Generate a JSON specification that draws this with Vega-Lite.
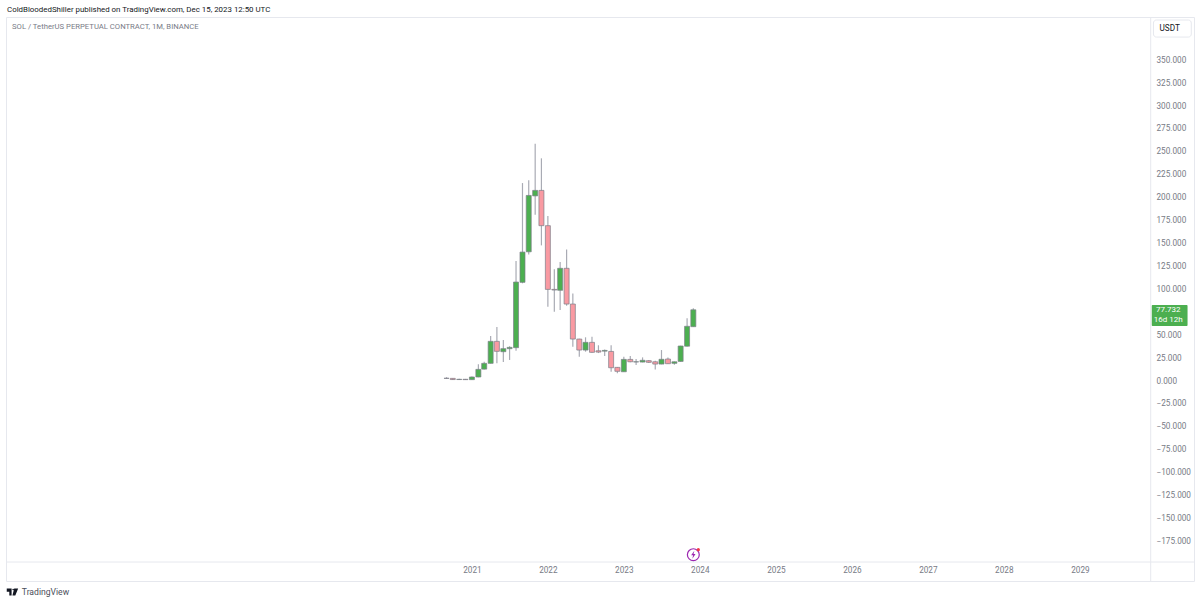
{
  "$schema": "https://vega.github.io/schema/vega-lite/v6.json",
  "width": 1188,
  "height": 564,
  "padding": {"left": 6, "top": 17, "right": 6, "bottom": 23},
  "autosize": "none",
  "background": "white",
  "view": {"stroke": "#E6E8EE", "strokeWidth": 1},
  "title": {
    "text": "ColdBloodedShiller published on TradingView.com, Dec 15, 2023 12:50 UTC",
    "anchor": "start",
    "frame": "group",
    "dx": 1,
    "offset": 3,
    "font": "Roboto",
    "fontSize": 7.9,
    "fontWeight": "normal",
    "color": "#131722"
  },
  "config": {"font": "Roboto", "axis": {"labelOverlap": false, "labelBound": false}},
  "datasets": {
    "candles": [
      {"date": "2020-09-01", "open": 3.0, "close": 2.9, "high": 4.2, "low": 2.4},
      {"date": "2020-10-01", "open": 2.9, "close": 1.6, "high": 3.0, "low": 1.2},
      {"date": "2020-11-01", "open": 1.6, "close": 1.9, "high": 2.4, "low": 1.1},
      {"date": "2020-12-01", "open": 1.9, "close": 1.5, "high": 2.3, "low": 1.1},
      {"date": "2021-01-01", "open": 1.5, "close": 4.4, "high": 5.0, "low": 1.3},
      {"date": "2021-02-01", "open": 4.4, "close": 12.7, "high": 18.2, "low": 4.0},
      {"date": "2021-03-01", "open": 13, "close": 19.3, "high": 21, "low": 12.6},
      {"date": "2021-04-01", "open": 19.3, "close": 43.3, "high": 49, "low": 19},
      {"date": "2021-05-01", "open": 43.3, "close": 32.4, "high": 59, "low": 19.3},
      {"date": "2021-06-01", "open": 32, "close": 35.3, "high": 44.7, "low": 20.7},
      {"date": "2021-07-01", "open": 35.3, "close": 36.7, "high": 38, "low": 23},
      {"date": "2021-08-01", "open": 36.4, "close": 108, "high": 131, "low": 33},
      {"date": "2021-09-01", "open": 107.7, "close": 140.7, "high": 216, "low": 106.6},
      {"date": "2021-10-01", "open": 141, "close": 202.5, "high": 219, "low": 138},
      {"date": "2021-11-01", "open": 202, "close": 208, "high": 259, "low": 181.5},
      {"date": "2021-12-01", "open": 208, "close": 169.5, "high": 243, "low": 148},
      {"date": "2022-01-01", "open": 169.5, "close": 100, "high": 180, "low": 81},
      {"date": "2022-02-01", "open": 100, "close": 99.3, "high": 122, "low": 75.6},
      {"date": "2022-03-01", "open": 99, "close": 123, "high": 130, "low": 77.5},
      {"date": "2022-04-01", "open": 123, "close": 84, "high": 143.6, "low": 82},
      {"date": "2022-05-01", "open": 84, "close": 45.8, "high": 95.6, "low": 37.5},
      {"date": "2022-06-01", "open": 45.8, "close": 33.8, "high": 46, "low": 26.5},
      {"date": "2022-07-01", "open": 33.8, "close": 42.2, "high": 47.7, "low": 32},
      {"date": "2022-08-01", "open": 42.2, "close": 31.3, "high": 48.4, "low": 30.9},
      {"date": "2022-09-01", "open": 33, "close": 31.6, "high": 39, "low": 30.5},
      {"date": "2022-10-01", "open": 32.6, "close": 33.4, "high": 34.5, "low": 27.3},
      {"date": "2022-11-01", "open": 32.3, "close": 14.5, "high": 39, "low": 10},
      {"date": "2022-12-01", "open": 14.9, "close": 10.6, "high": 15.2, "low": 8.4},
      {"date": "2023-01-01", "open": 10.1, "close": 23.6, "high": 26.5, "low": 10},
      {"date": "2023-02-01", "open": 23.6, "close": 21, "high": 27.3, "low": 20.4},
      {"date": "2023-03-01", "open": 20.8, "close": 21, "high": 24, "low": 17.5},
      {"date": "2023-04-01", "open": 20.7, "close": 22.6, "high": 25.8, "low": 20.4},
      {"date": "2023-05-01", "open": 22.2, "close": 20.4, "high": 22.9, "low": 19.6},
      {"date": "2023-06-01", "open": 21, "close": 18.5, "high": 22, "low": 12.7},
      {"date": "2023-07-01", "open": 18.5, "close": 23.7, "high": 33.8, "low": 18.3},
      {"date": "2023-08-01", "open": 24, "close": 18.9, "high": 25.8, "low": 18.5},
      {"date": "2023-09-01", "open": 19.3, "close": 21, "high": 21.4, "low": 17.8},
      {"date": "2023-10-01", "open": 21.4, "close": 38.2, "high": 38.6, "low": 21},
      {"date": "2023-11-01", "open": 38, "close": 59.7, "high": 68.4, "low": 37.6},
      {"date": "2023-12-01", "open": 59.3, "close": 77.732, "high": 79.3, "low": 59.3}
    ]
  },
  "encoding": {
    "x": {
      "type": "temporal",
      "scale": {"type": "utc", "domain": ["2014-11-15", "2030-07-03"], "padding": 0},
      "title": null,
      "axis": {
        "values": [
          {"year": 2021, "month": 1, "date": 1, "utc": true},
          {"year": 2022, "month": 1, "date": 1, "utc": true},
          {"year": 2023, "month": 1, "date": 1, "utc": true},
          {"year": 2024, "month": 1, "date": 1, "utc": true},
          {"year": 2025, "month": 1, "date": 1, "utc": true},
          {"year": 2026, "month": 1, "date": 1, "utc": true},
          {"year": 2027, "month": 1, "date": 1, "utc": true},
          {"year": 2028, "month": 1, "date": 1, "utc": true},
          {"year": 2029, "month": 1, "date": 1, "utc": true}
        ],
        "format": "%Y",
        "formatType": "utc",
        "grid": false,
        "ticks": false,
        "domain": false,
        "labelPadding": -15,
        "labelBaseline": "top",
        "labelFont": "Roboto",
        "labelFontSize": 8.2,
        "labelColor": "#787B86",
        "labelOverlap": false,
        "labelFlush": false
      }
    },
    "y": {
      "type": "quantitative",
      "scale": {"domain": [-218.2, 397.2], "nice": false, "zero": false, "padding": 0},
      "title": null,
      "axis": {
        "orient": "right",
        "values": [-175, -150, -125, -100, -75, -50, -25, 0, 25, 50, 100, 125, 150, 175, 200, 225, 250, 275, 300, 325, 350],
        "format": ".3f",
        "grid": false,
        "ticks": false,
        "domain": false,
        "labelPadding": -38,
        "labelAlign": "left",
        "labelFont": "Roboto",
        "labelFontSize": 8.2,
        "labelColor": "#787B86",
        "labelOverlap": false,
        "labelFlush": false
      }
    }
  },
  "layer": [
    {
      "data": {"values": [{"edge": "2029-12-07"}]},
      "mark": {"type": "rule", "stroke": "#E6E8EE", "strokeWidth": 1},
      "encoding": {"x": {"field": "edge", "type": "temporal"}, "y": null}
    },
    {
      "data": {"values": [{"edge": -197.5}]},
      "mark": {"type": "rule", "stroke": "#E6E8EE", "strokeWidth": 1},
      "encoding": {"y": {"field": "edge", "type": "quantitative"}, "x": null}
    },
    {
      "data": {"name": "candles"},
      "mark": {"type": "rule", "stroke": "#A9ABB4", "strokeWidth": 1.2},
      "encoding": {
        "x": {"field": "date", "type": "temporal"},
        "y": {"field": "low", "type": "quantitative"},
        "y2": {"field": "high"}
      }
    },
    {
      "data": {"name": "candles"},
      "mark": {"type": "bar", "size": 5, "stroke": "#7B7E88", "strokeWidth": 0.7},
      "encoding": {
        "x": {"field": "date", "type": "temporal"},
        "y": {"field": "open", "type": "quantitative"},
        "y2": {"field": "close"},
        "color": {
          "condition": {"test": "datum.close >= datum.open", "value": "#4CAF50"},
          "value": "#F99AA2"
        }
      }
    },
    {
      "data": {"values": [{"from": "2029-12-12", "to": "2030-06-02", "top": 82.9, "bottom": 60}]},
      "mark": {"type": "rect", "fill": "#4CAF50", "cornerRadius": 1},
      "encoding": {
        "x": {"field": "from", "type": "temporal"},
        "x2": {"field": "to"},
        "y": {"field": "top", "type": "quantitative"},
        "y2": {"field": "bottom"}
      }
    },
    {
      "data": {"values": [{"from": "2029-12-20", "to": "2030-06-20", "top": 393.9, "bottom": 375.3}]},
      "mark": {"type": "rect", "fill": "white", "stroke": "#E6E8EE", "cornerRadius": 3},
      "encoding": {
        "x": {"field": "from", "type": "temporal"},
        "x2": {"field": "to"},
        "y": {"field": "top", "type": "quantitative"},
        "y2": {"field": "bottom"}
      }
    },
    {
      "data": {"values": [
        {"label": "77.732", "date": "2030-03-01", "value": 77.2},
        {"label": "16d 12h", "date": "2030-03-01", "value": 66.2}
      ]},
      "mark": {"type": "text", "align": "center", "baseline": "middle", "font": "Roboto", "fontSize": 8, "color": "white"},
      "encoding": {
        "x": {"field": "date", "type": "temporal"},
        "y": {"field": "value", "type": "quantitative"},
        "text": {"field": "label"}
      }
    },
    {
      "data": {"values": [{"label": "USDT", "date": "2030-03-08", "value": 384.6}]},
      "mark": {"type": "text", "align": "center", "baseline": "middle", "font": "Roboto", "fontSize": 8.2, "color": "#131722"},
      "encoding": {
        "x": {"field": "date", "type": "temporal"},
        "y": {"field": "value", "type": "quantitative"},
        "text": {"field": "label"}
      }
    },
    {
      "data": {"values": [{"label": "SOL / TetherUS PERPETUAL CONTRACT, 1M, BINANCE", "date": "2014-12-14", "value": 386.3}]},
      "mark": {"type": "text", "align": "left", "baseline": "middle", "font": "Roboto", "fontSize": 7.7, "color": "#787B86"},
      "encoding": {
        "x": {"field": "date", "type": "temporal"},
        "y": {"field": "value", "type": "quantitative"},
        "text": {"field": "label"}
      }
    },
    {
      "data": {"values": [{"label": "TradingView", "date": "2015-01-30", "value": -230.2}]},
      "mark": {"type": "text", "align": "left", "baseline": "middle", "font": "Roboto", "fontSize": 8.6, "color": "#4A4E59"},
      "encoding": {
        "x": {"field": "date", "type": "temporal"},
        "y": {"field": "value", "type": "quantitative"},
        "text": {"field": "label"}
      }
    },
    {
      "data": {"values": [{"date": "2014-12-16", "value": -230.2}]},
      "mark": {
        "type": "point",
        "shape": "M-1,-0.6H-0.15V0.6H-0.55V-0.05H-1Z M0.3,-0.6H1L0.5,0.6H0Z M-0.02,-0.45A0.14,0.14,0,1,1,0.26,-0.45A0.14,0.14,0,1,1,-0.02,-0.45Z",
        "size": 130,
        "filled": true,
        "fill": "#131722",
        "opacity": 1,
        "strokeWidth": 0
      },
      "encoding": {
        "x": {"field": "date", "type": "temporal"},
        "y": {"field": "value", "type": "quantitative"}
      }
    },
    {
      "data": {"values": [{"date": "2023-12-01", "value": -189.5}]},
      "mark": {"type": "point", "shape": "circle", "size": 141, "filled": false, "stroke": "#9C27B0", "strokeWidth": 1.2, "opacity": 1},
      "encoding": {
        "x": {"field": "date", "type": "temporal"},
        "y": {"field": "value", "type": "quantitative"}
      }
    },
    {
      "data": {"values": [{"date": "2023-12-01", "value": -189.5}]},
      "mark": {
        "type": "point",
        "shape": "M0.25,-1L-0.55,0.15H-0.05L-0.25,1L0.55,-0.2H0.05Z",
        "size": 64,
        "filled": true,
        "fill": "#9C27B0",
        "opacity": 1,
        "strokeWidth": 0
      },
      "encoding": {
        "x": {"field": "date", "type": "temporal"},
        "y": {"field": "value", "type": "quantitative"}
      }
    },
    {
      "data": {"values": [{"date": "2023-12-25", "value": -184}]},
      "mark": {"type": "point", "shape": "circle", "size": 10, "filled": true, "fill": "#F23645", "opacity": 1, "strokeWidth": 0},
      "encoding": {
        "x": {"field": "date", "type": "temporal"},
        "y": {"field": "value", "type": "quantitative"}
      }
    }
  ]
}
